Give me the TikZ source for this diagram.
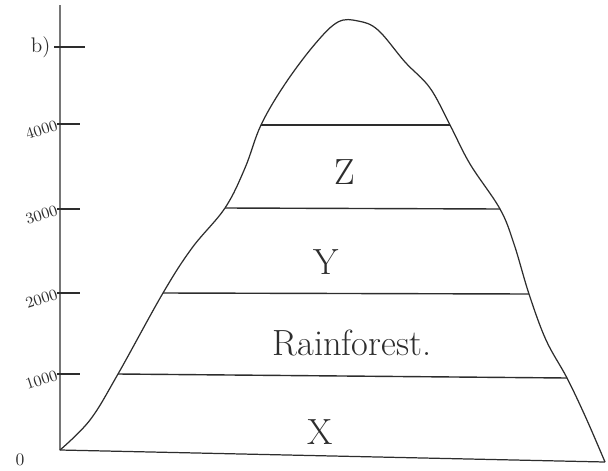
\documentclass[tikz,border=0pt]{standalone}
\usepackage{tikz}
\usetikzlibrary{positioning}
\definecolor{pencil}{RGB}{45,45,45}

\begin{document}
\begin{tikzpicture}[
			x=0.02cm, y=-0.02cm,
			outline/.style={draw=pencil, line width=0.7pt, line join=round},
			band/.style={draw=pencil, line width=0.8pt},
			tick/.style={draw=pencil, line width=0.8pt},
			ticklabel/.style={font=\small, text=pencil, rotate=18, anchor=east, inner sep=1pt},
			zone/.style={font=\huge, text=pencil}
		]
		\useasboundingbox (0,0) rectangle (608,470);
		\coordinate (o) at (60,450);
		\coordinate (top) at (60,5);
		\coordinate (end) at (605,462);
		\coordinate (l1) at (118,374); \coordinate (r1) at (567,378);
		\coordinate (l2) at (163,293); \coordinate (r2) at (529,294);
		\coordinate (l3) at (225,208); \coordinate (r3) at (500,209);
		\coordinate (l4) at (261,125); \coordinate (r4) at (450,125);
		
		\draw[outline] (top) -- (o) -- (end);
		\draw[outline] plot[smooth, tension=0.6] coordinates {(o) (90,420) (l1) (l2) (192,248) (l3) (245,168) (l4) (285,84) (315,44) (338,22) (358,21) (378,30) (405,62) (430,88) (r4) (470,164) (r3) (514,244) (r2) (546,340) (r1) (586,418) (end)};
		
		\draw[band] (l1) -- (r1);
		\draw[band] (l2) -- (r2);
		\draw[band] (l3) -- (r3);
		\draw[band] (l4) -- (r4);
		
		\coordinate (t5) at (60,47);
		\coordinate (t4) at (60,124);
		\coordinate (t3) at (60,209);
		\coordinate (t2) at (60,293);
		\coordinate (t1) at (60,374);
		\draw[tick] ([xshift=-0.12cm]t5) -- ([xshift=0.5cm]t5);
		\foreach \t in {t4,t3,t2,t1}
			\draw[tick] ([xshift=-0.06cm]\t) -- ([xshift=0.4cm]\t);
		
		\node[ticklabel, font=\large, rotate=-18, left=0.15cm of t5] (lb) {b)};
		\node[ticklabel, left=0.02cm of t4] (l4000) {4000};
		\node[ticklabel, left=0.02cm of t3] (l3000) {3000};
		\node[ticklabel, left=0.02cm of t2] (l2000) {2000};
		\node[ticklabel, left=0.02cm of t1] (l1000) {1000};
		\node[font=\normalsize, text=pencil] (l0) at (20,460) {0};
		
		\node[zone] (z) at (345,172) {Z};
		\node[zone] (y) at (326,262) {Y};
		\node[zone] (rf) at (352,343) {Rainforest.};
		\node[zone] (x) at (320,432) {X};
		\end{tikzpicture}
\end{document}
